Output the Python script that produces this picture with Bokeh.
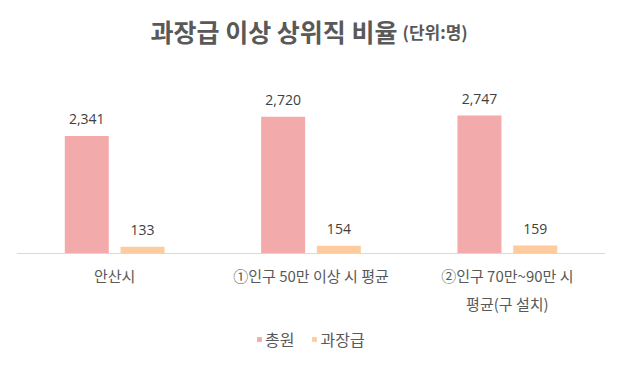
from bokeh.plotting import figure
from bokeh.models import ColumnDataSource, Label, Legend, LegendItem, Range1d, FactorRange, Span
from bokeh.transform import dodge
from bokeh.core.properties import value
from bokeh.embed import file_html
from bokeh.resources import INLINE

# ---- data ----
categories = ["안산시", "①인구 50만 이상 시 평균", "②인구 70만~90만 시\n평균(구 설치)"]
total = [2341, 2720, 2747]          # 총원
manager = [133, 154, 159]           # 과장급
total_labels = ["2,341", "2,720", "2,747"]
manager_labels = ["133", "154", "159"]
series_names = ["총원", "과장급"]
title_main = "과장급 이상 상위직 비율"
title_unit = "(단위:명)"

PINK = "#F2AAAA"
PEACH = "#FECB9E"
KFONT = "Noto Sans CJK KR"

src = ColumnDataSource(dict(cat=categories, total=total, manager=manager,
                            tl=total_labels, ml=manager_labels))

p = figure(width=605, height=353, output_backend="svg", toolbar_location=None,
           x_range=FactorRange(*categories, range_padding=0),
           y_range=Range1d(-1990, 5036), title=None,
           x_axis_location=None, y_axis_location=None,
           min_border_left=16, min_border_right=0, min_border_top=0, min_border_bottom=0)
p.outline_line_color = None
p.grid.visible = False
p.background_fill_color = "white"
p.border_fill_color = "white"

# category axis line
p.add_layout(Span(location=0, dimension="width", line_color="#D9D9D9", line_width=1))

off = 0.142
w = 0.224
r1 = p.vbar(x=dodge("cat", -off, range=p.x_range), top="total", width=w, source=src,
            fill_color=PINK, line_color=None)
r2 = p.vbar(x=dodge("cat", off, range=p.x_range), top="manager", width=w, source=src,
            fill_color=PEACH, line_color=None)

for col, d in (("tl", -off), ("ml", off)):
    ycol = "total" if col == "tl" else "manager"
    p.text(x=dodge("cat", d, range=p.x_range), y=ycol, text=col, source=src,
           text_align="center", text_baseline="alphabetic", y_offset=-17,
           text_font=value("Open Sans"), text_font_size="14px", text_color="#404040")

# category tick labels
p.text(x="cat", y=0, text="cat", source=src, text_align="center", text_baseline="top",
       y_offset=11, text_font=value(KFONT), text_font_size="15px",
       text_color="#595959", text_line_height=1.38)

p.add_layout(Label(x=1.9406, y=4419, text=title_main, text_align="right", text_baseline="middle",
                   text_font=KFONT, text_font_size="25px", text_font_style="bold",
                   text_color="#595959"))
p.add_layout(Label(x=1.966, y=4419, text=title_unit, text_align="left", text_baseline="middle",
                   text_font=KFONT, text_font_size="17px", text_font_style="bold",
                   text_color="#595959"))

legend = Legend(items=[LegendItem(label=series_names[0], renderers=[r1]),
                       LegendItem(label=series_names[1], renderers=[r2])],
                orientation="horizontal", location=(240, 2),
                glyph_width=6, glyph_height=6, label_standoff=3, spacing=17,
                padding=0, margin=0, border_line_color=None, background_fill_alpha=0,
                label_text_font=KFONT, label_text_font_size="16px", label_text_color="#595959")
p.add_layout(legend)

open("out.html", "w").write(file_html(p, INLINE))
